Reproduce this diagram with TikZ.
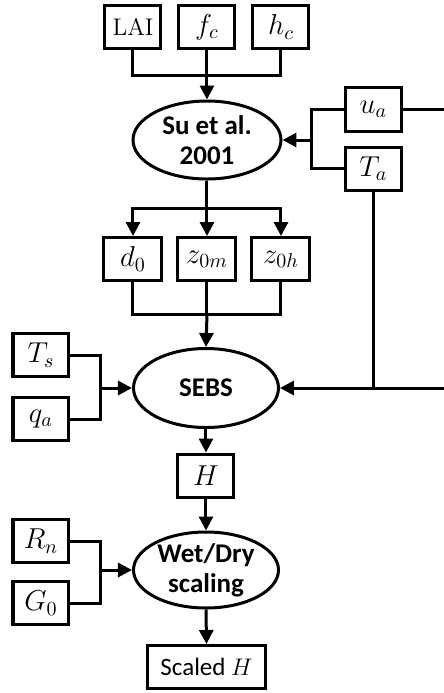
\documentclass[tikz,border=0pt]{standalone}
\usepackage{fontspec}
\setsansfont{Carlito}
\usetikzlibrary{arrows.meta,shapes.geometric}
\begin{document}
\begin{tikzpicture}[x=0.5pt,y=-0.5pt, line width=1.5pt,
  box/.style={draw, line width=1.5pt, minimum width=28pt, minimum height=21.5pt, inner sep=0pt, font=\fontsize{14}{16}\selectfont},
  oval/.style={draw, ellipse, line width=1.5pt, inner sep=0pt, align=center, font=\sffamily\bfseries\fontsize{13.5}{15}\selectfont},
  arr/.style={-{Triangle[width=7pt,length=7pt]}}]
\useasboundingbox (0,0) rectangle (444,693);
% top inputs
\node[box] (lai) at (133,27) {\fontsize{12}{14}\selectfont LAI};
\node[box] (fc) at (207,27) {$f_c$};
\node[box] (hc) at (281,27) {$h_c$};
\node[oval, minimum width=74pt, minimum height=39pt] (su) at (207,140) {Su et al.\\2001};
\node[box, minimum height=22pt] (ua) at (373.5,109.5) {$u_a$};
\node[box] (ta) at (373.5,168.5) {$T_a$};
% roughness
\node[box, minimum width=29pt] (d0) at (133,259) {$d_0$};
\node[box, minimum width=29pt] (z0m) at (207,259) {$z_{0m}$};
\node[box, minimum width=29pt] (z0h) at (281,259) {$z_{0h}$};
% SEBS
\node[oval, minimum width=72.5pt, minimum height=39.5pt] (sebs) at (206,388) {SEBS};
\node[box] (ts) at (41,355) {$T_s$};
\node[box] (qa) at (41,419) {$q_a$};
\node[box] (h) at (206,475.5) {$H$};
% scaling
\node[oval, minimum width=72.5pt, minimum height=38pt] (wd) at (206,570) {Wet/Dry\\scaling};
\node[box] (rn) at (41,541) {$R_n$};
\node[box] (g0) at (41,603) {$G_0$};
\node[box, minimum width=59pt] (sh) at (206.5,667) {\sffamily\fontsize{12.5}{14}\selectfont Scaled $H$};
% coordinates
\coordinate (j1) at (207,75);
\coordinate (rb) at (312,140);
\coordinate (ue) at (444,109.5);
\coordinate (s1) at (207,208);
\coordinate (s2) at (207,314);
\coordinate (l1) at (101,388);
\coordinate (r2) at (373.5,388);
\coordinate (re) at (444,388);
\coordinate (l2) at (101,570);
% connectors
\draw (lai.south) |- (j1) -| (hc.south);
\draw (fc.south) -- (j1);
\draw[arr] (j1) -- (su.north);
\draw (ua.west) -| (rb);
\draw (ta.west) -| (rb);
\draw[arr] (rb) -- (su.east);
\draw (ua.east) -- (ue);
\draw (su.south) -- (s1);
\draw[arr] (s1) -- (z0m.north);
\draw[arr] (s1) -| (d0.north);
\draw[arr] (s1) -| (z0h.north);
\draw (d0.south) |- (s2) -| (z0h.south);
\draw (z0m.south) -- (s2);
\draw[arr] (s2) -- (sebs.north);
\draw (ts.east) -| (l1);
\draw (qa.east) -| (l1);
\draw[arr] (l1) -- (sebs.west);
\draw (ta.south) -- (r2);
\draw[arr] (re) -- (sebs.east);
\draw[arr] (sebs.south) -- (h.north);
\draw[arr] (h.south) -- (wd.north);
\draw (rn.east) -| (l2);
\draw (g0.east) -| (l2);
\draw[arr] (l2) -- (wd.west);
\draw[arr] (wd.south) -- (sh.north);
\end{tikzpicture}
\end{document}
